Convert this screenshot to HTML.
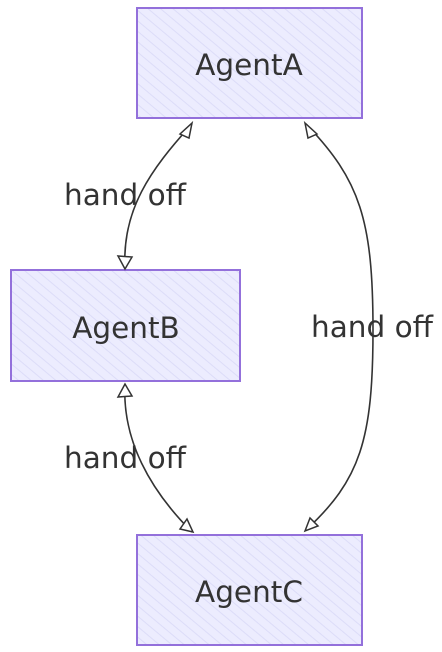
<!DOCTYPE html>
<html><head><meta charset="utf-8"><style>
html,body{margin:0;padding:0;background:#fff;}
svg{display:block;}
text{font-family:"DejaVu Sans","Liberation Sans",sans-serif;font-size:29.5px;fill:#333;}
</style></head><body>
<svg width="442" height="652" viewBox="0 0 442 652" xmlns="http://www.w3.org/2000/svg">
<defs>
<pattern id="h" width="8" height="8" patternUnits="userSpaceOnUse" patternTransform="rotate(-50)">
<rect width="8" height="8" fill="#ececfe"/>
<line x1="0" y1="0" x2="0" y2="8" stroke="#dcdcf8" stroke-width="2"/>
</pattern>
</defs>
<rect x="137" y="8" width="225" height="110" fill="url(#h)" stroke="#9370db" stroke-width="2"/>
<rect x="11" y="270" width="229" height="111" fill="url(#h)" stroke="#9370db" stroke-width="2"/>
<rect x="137" y="535" width="225" height="110" fill="url(#h)" stroke="#9370db" stroke-width="2"/>
<g fill="none" stroke="#333" stroke-width="1.6">
<path d="M192 124 C150 170 122 210 125 268"/>
<path d="M306 124 C360 180 373 220 373 330 C373 440 360 480 306 530"/>
<path d="M125 384 C122 440 150 490 192 532"/>
</g>
<g fill="#fff" stroke="#333" stroke-width="1.5">
<polygon points="192,123 180,134 189,138"/>
<polygon points="125,269 118,256 132,257"/>
<polygon points="305,123 317,134 308,138"/>
<polygon points="305,531 310,518 318,526"/>
<polygon points="125,384 118,397 132,396"/>
<polygon points="193,532 180,529 187,519"/>
</g>
<text x="249" y="75" text-anchor="middle">AgentA</text>
<text x="126" y="338" text-anchor="middle">AgentB</text>
<text x="249" y="602" text-anchor="middle">AgentC</text>
<text x="125" y="205" text-anchor="middle">hand off</text>
<text x="372" y="337" text-anchor="middle">hand off</text>
<text x="125" y="468" text-anchor="middle">hand off</text>
</svg>
</body></html>
